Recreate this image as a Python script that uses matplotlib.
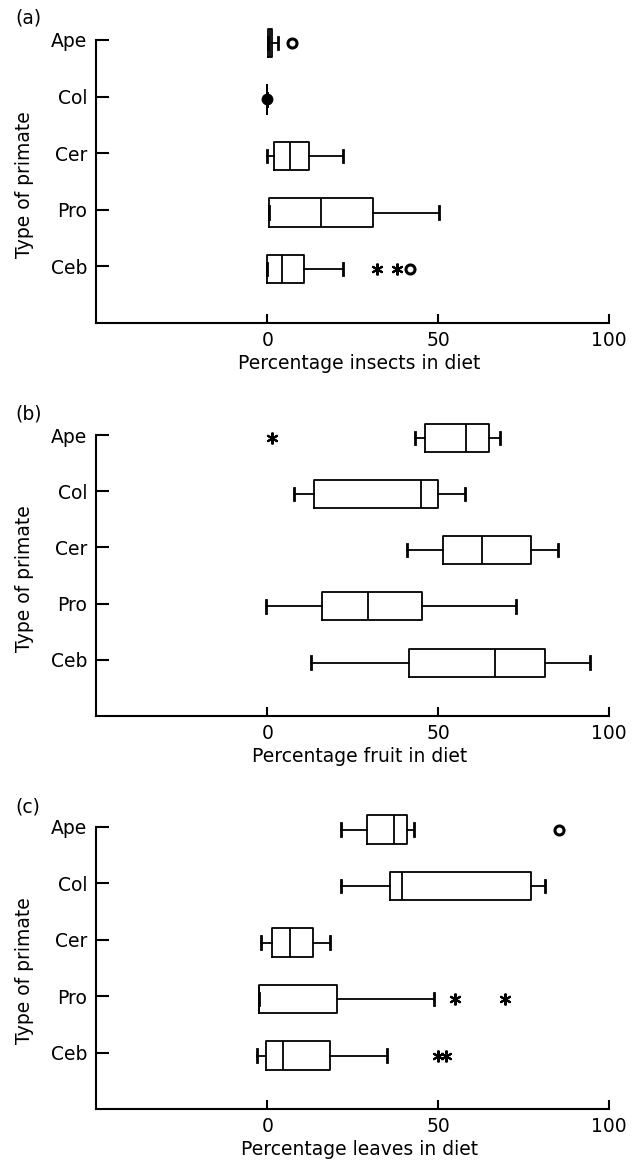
import matplotlib
matplotlib.use("Agg")
import matplotlib.pyplot as plt

plt.rcParams['font.family'] = ['DejaVu Sans']

# ---------------- data ----------------
categories = ["Ape", "Col", "Cer", "Pro", "Ceb"]
x_ticks = [0, 50, 100]
panel_letters = ["(a)", "(b)", "(c)"]
x_labels = ["Percentage insects in diet", "Percentage fruit in diet",
            "Percentage leaves in diet"]
y_label = "Type of primate"

# (a) insects
insects_whislo = [0.1, 0.0, 0.0, 0.4, 0.0]
insects_q1 = [0.1, 0.0, 1.9, 0.4, 0.0]
insects_med = [0.8, 0.0, 6.7, 15.7, 4.3]
insects_q3 = [1.5, 0.0, 12.3, 30.9, 10.7]
insects_whishi = [3.0, 0.0, 22.0, 50.3, 22.0]
insects_stars = {"Ceb": [32.1, 37.8]}
insects_circles = {"Ape": [7.3], "Ceb": [41.7]}
insects_dots = {"Col": [0.0]}

# (b) fruit
fruit_whislo = [43.2, 7.7, 40.8, -0.5, 12.9]
fruit_q1 = [46.2, 13.5, 51.3, 15.9, 41.4]
fruit_med = [58.0, 44.9, 62.9, 29.5, 66.6]
fruit_q3 = [64.9, 49.9, 77.2, 45.1, 81.1]
fruit_whishi = [68.1, 57.8, 85.0, 72.8, 94.4]
fruit_stars = {"Ape": [1.3]}
fruit_circles = {}
fruit_dots = {}

# (c) leaves
leaves_whislo = [21.4, 21.4, -2.0, -2.5, -2.9]
leaves_q1 = [29.0, 35.8, 1.4, -2.5, -0.4]
leaves_med = [37.0, 39.4, 6.7, -2.5, 4.7]
leaves_q3 = [40.8, 77.2, 13.4, 20.5, 18.3]
leaves_whishi = [43.0, 81.3, 18.2, 48.6, 35.1]
leaves_stars = {"Pro": [54.8, 69.5], "Ceb": [50.0, 52.2]}
leaves_circles = {"Ape": [85.2]}
leaves_dots = {}

panels = [
    (insects_whislo, insects_q1, insects_med, insects_q3, insects_whishi,
     insects_stars, insects_circles, insects_dots),
    (fruit_whislo, fruit_q1, fruit_med, fruit_q3, fruit_whishi,
     fruit_stars, fruit_circles, fruit_dots),
    (leaves_whislo, leaves_q1, leaves_med, leaves_q3, leaves_whishi,
     leaves_stars, leaves_circles, leaves_dots),
]

# ---------------- layout ----------------
W, H = 643, 1165
fig = plt.figure(figsize=(W / 100, H / 100), dpi=100)

ax_rects = [
    [0.1488, 0.7227, 0.7988, 0.2722],
    [0.1488, 0.3854, 0.7988, 0.2701],
    [0.1488, 0.0478, 0.7988, 0.2717],
]
letter_y = [1 - 18 / H, 1 - 414 / H, 1 - 807 / H]

ypos = {c: 5 - i for i, c in enumerate(categories)}
box_shift = -0.05
FS = 13.5

for k, (wlo, q1, med, q3, whi, stars, circles, dots) in enumerate(panels):
    ax = fig.add_axes(ax_rects[k])
    stats = []
    for i, c in enumerate(categories):
        stats.append(dict(whislo=wlo[i], q1=q1[i], med=med[i], q3=q3[i],
                          whishi=whi[i], fliers=[], label=c))
    positions = [ypos[c] + box_shift for c in categories]
    kw = dict(positions=positions, widths=0.5, capwidths=0.22,
              showfliers=False, patch_artist=False,
              boxprops=dict(color='black', linewidth=1.3),
              medianprops=dict(color='black', linewidth=1.3),
              whiskerprops=dict(color='black', linewidth=1.3),
              capprops=dict(color='black', linewidth=2.0),
              manage_ticks=False)
    try:
        ax.bxp(stats, orientation='horizontal', **kw)
    except TypeError:
        ax.bxp(stats, vert=False, **kw)

    for c, vals in stars.items():
        ax.plot(vals, [ypos[c] + box_shift] * len(vals), linestyle='none',
                marker=(6, 2, 0), markersize=8.5, markeredgewidth=1.5,
                color='black', clip_on=False)
    for c, vals in circles.items():
        ax.plot(vals, [ypos[c] + box_shift] * len(vals), linestyle='none',
                marker='o', markersize=6.5, markeredgewidth=2.2,
                markerfacecolor='white', markeredgecolor='black',
                clip_on=False)
    for c, vals in dots.items():
        ax.plot(vals, [ypos[c] + box_shift] * len(vals), linestyle='none',
                marker='o', markersize=7.5, color='black', clip_on=False)

    ax.set_xlim(-50.2, 100)
    ax.set_ylim(0, 5.6)
    ax.spines['top'].set_visible(False)
    ax.spines['right'].set_visible(False)
    ax.spines['left'].set_bounds(0, 5)
    ax.spines['left'].set_linewidth(1.5)
    ax.spines['bottom'].set_linewidth(1.5)

    ax.set_yticks([ypos[c] for c in categories])
    ax.set_yticklabels(categories)
    ax.set_xticks(x_ticks)
    ax.set_xticklabels([str(t) for t in x_ticks])
    ax.tick_params(axis='y', direction='in', length=9, width=1.5,
                   pad=6, labelsize=FS)
    ax.tick_params(axis='x', direction='in', length=6.5, width=1.5,
                   pad=5.8, labelsize=FS)

    ax.annotate(x_labels[k], xy=(27, 0), xycoords=('data', 'axes fraction'),
                xytext=(0, -40), textcoords='offset pixels',
                ha='center', va='center', fontsize=FS)
    ax.annotate(y_label, xy=(0, 2.45), xycoords=('axes fraction', 'data'),
                xytext=(25 - 95.7, 0), textcoords='offset pixels',
                ha='center', va='center', rotation=90, fontsize=FS)

    fig.text(15 / W, letter_y[k], panel_letters[k], ha='left', va='center',
             fontsize=FS)

fig.savefig("out.png", dpi=100)
